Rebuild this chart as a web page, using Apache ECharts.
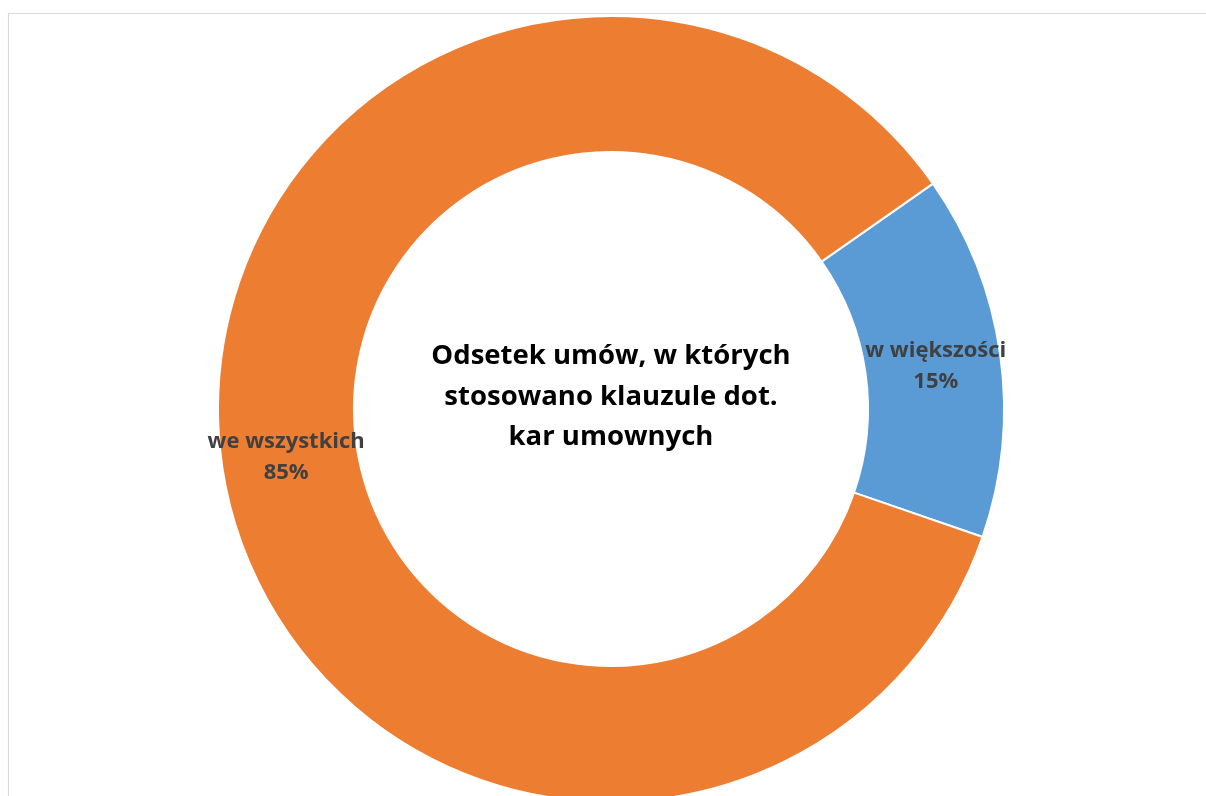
<!DOCTYPE html>
<html>
<head>
<meta charset="utf-8">
<style>
  html, body { margin: 0; padding: 0; background: #ffffff; }
  #chart { width: 1206px; height: 796px; }
</style>
<script src="https://cdn.jsdelivr.net/npm/echarts@6/dist/echarts.min.js"></script>
</head>
<body>
<div id="chart"></div>
<script>
// Share of contracts that used penalty clauses
const categories = ['w większości', 'we wszystkich'];
const shares = [15, 85];
const sliceColors = ['#5B9BD5', '#ED7D31'];
const centerTitle = 'Odsetek umów, w których\nstosowano klauzule dot.\nkar umownych';

const chart = echarts.init(document.getElementById('chart'), null, { renderer: 'canvas' });

chart.setOption({
  animation: false,
  backgroundColor: '#ffffff',
  graphic: [
    {
      type: 'polyline',
      shape: { points: [[8.5, 796], [8.5, 13.5], [1206, 13.5]] },
      style: { stroke: '#d9d9d9', lineWidth: 1.2, fill: null },
      silent: true
    },
    {
      type: 'text',
      x: 611,
      y: 336,
      style: {
        text: centerTitle,
        fill: '#000000',
        font: 'bold 27.5px "Open Sans", sans-serif',
        lineHeight: 40.5,
        align: 'center',
        verticalAlign: 'top'
      },
      silent: true
    }
  ],
  series: [{
    type: 'pie',
    center: [611, 409],
    radius: [257, 393],
    startAngle: 35,
    clockwise: true,
    avoidLabelOverlap: false,
    itemStyle: { borderColor: '#ffffff', borderWidth: 2 },
    label: {
      show: true,
      position: 'inside',
      offset: [0, 3],
      formatter: p => p.name + '\n' + p.value + '%',
      color: '#404040',
      fontFamily: '"Open Sans", sans-serif',
      fontWeight: 'bold',
      fontSize: 22,
      lineHeight: 31
    },
    labelLine: { show: false },
    emphasis: { disabled: true },
    data: categories.map((name, i) => ({
      name,
      value: shares[i],
      itemStyle: { color: sliceColors[i] }
    }))
  }]
});
</script>
</body>
</html>
